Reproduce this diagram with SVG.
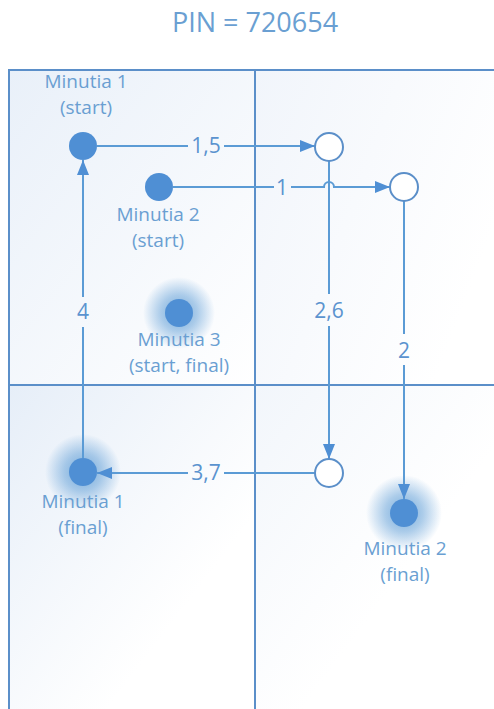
<svg xmlns="http://www.w3.org/2000/svg" width="494" height="709" viewBox="0 0 494 709">
<defs>
<style>
.t{font-family:"Open Sans","Noto Sans",sans-serif;fill:#6a9fd2;text-anchor:middle}
.lab{font-size:19px}
.num{font-size:21px;fill:#5b93cf}
.grid{stroke:#5b8fc9;stroke-width:2;fill:none}
.con{stroke:#5b9bd5;stroke-width:2;fill:none}
.full{fill:#4f8fd4}
.hollow{fill:#ffffff;stroke:#5b8fc9;stroke-width:2}
</style>
<marker id="ah" markerUnits="userSpaceOnUse" markerWidth="16" markerHeight="14" refX="15" refY="7" orient="auto">
<path d="M0,1 L15,7 L0,13 Z" fill="#4f8fd4"/>
</marker>
<radialGradient id="glow">
<stop offset="0" stop-color="#5b9bd5" stop-opacity="0.85"/>
<stop offset="0.5" stop-color="#5b9bd5" stop-opacity="0.5"/>
<stop offset="1" stop-color="#5b9bd5" stop-opacity="0"/>
</radialGradient>
<linearGradient id="q1" x1="0" y1="0" x2="1" y2="1">
<stop offset="0" stop-color="#e9f0f9"/>
<stop offset="1" stop-color="#ffffff"/>
</linearGradient>
<linearGradient id="q2" x1="0" y1="0" x2="1" y2="0.5">
<stop offset="0" stop-color="#f1f5fb"/>
<stop offset="1" stop-color="#ffffff"/>
</linearGradient>
<linearGradient id="q3" x1="0" y1="0" x2="1" y2="1">
<stop offset="0" stop-color="#e6eef8"/>
<stop offset="0.7" stop-color="#ffffff"/>
</linearGradient>
<linearGradient id="q4" x1="0" y1="0" x2="1" y2="1">
<stop offset="0" stop-color="#f2f6fb"/>
<stop offset="0.6" stop-color="#ffffff"/>
</linearGradient>
</defs>
<rect width="494" height="709" fill="#ffffff"/>
<text class="t" x="255" y="32" font-size="27">PIN = 720654</text>
<g id="grid">
<rect x="9" y="70" width="246" height="315" fill="url(#q1)"/>
<rect x="255" y="70" width="239" height="315" fill="url(#q2)"/>
<rect x="9" y="385" width="246" height="324" fill="url(#q3)"/>
<rect x="255" y="385" width="239" height="324" fill="url(#q4)"/>
<path class="grid" d="M9,709 L9,70 L494,70 M255,70 L255,709 M9,385 L494,385"/>
</g>
<g id="glows">
<circle cx="179" cy="313" r="36" fill="url(#glow)"/>
<circle cx="83" cy="472" r="38" fill="url(#glow)"/>
<circle cx="404" cy="513" r="38" fill="url(#glow)"/>
</g>
<g id="connectors">
<path class="con" marker-end="url(#ah)" d="M97,146 L188,146 M224,146 L315,146"/>
<path class="con" marker-end="url(#ah)" d="M173,187 L274,187 M291,187 L324,187 A5,5 0 0 1 334,187 L390,187"/>
<path class="con" marker-end="url(#ah)" d="M329,161 L329,294 M329,326 L329,459"/>
<path class="con" marker-end="url(#ah)" d="M404,201 L404,334 M404,365 L404,499"/>
<path class="con" marker-end="url(#ah)" d="M315,473 L224,473 M188,473 L97,473"/>
<path class="con" marker-end="url(#ah)" d="M83,458 L83,327 M83,297 L83,160"/>
<text class="t num" x="206" y="153">1,5</text>
<text class="t num" x="282" y="195">1</text>
<text class="t num" x="329" y="318">2,6</text>
<text class="t num" x="404" y="358">2</text>
<text class="t num" x="206" y="480">3,7</text>
<text class="t num" x="83" y="319">4</text>
</g>
<g id="m1start">
<circle class="full" cx="83" cy="146" r="14"/>
<text class="t lab" x="86" y="88">Minutia 1</text>
<text class="t lab" x="86" y="114">(start)</text>
</g>
<g id="m2start">
<circle class="full" cx="159" cy="187" r="14"/>
<text class="t lab" x="158" y="221">Minutia 2</text>
<text class="t lab" x="158" y="247">(start)</text>
</g>
<g id="m3">
<circle class="full" cx="179" cy="313" r="14"/>
<text class="t lab" x="179" y="346">Minutia 3</text>
<text class="t lab" x="179" y="372">(start, final)</text>
</g>
<g id="h1">
<circle class="hollow" cx="329" cy="147" r="14"/>
</g>
<g id="h2">
<circle class="hollow" cx="404" cy="187" r="14"/>
</g>
<g id="h3">
<circle class="hollow" cx="329" cy="473" r="14"/>
</g>
<g id="m1final">
<circle class="full" cx="83" cy="472" r="14"/>
<text class="t lab" x="83" y="508">Minutia 1</text>
<text class="t lab" x="83" y="534">(final)</text>
</g>
<g id="m2final">
<circle class="full" cx="404" cy="513" r="14"/>
<text class="t lab" x="405" y="555">Minutia 2</text>
<text class="t lab" x="405" y="581">(final)</text>
</g>
</svg>
